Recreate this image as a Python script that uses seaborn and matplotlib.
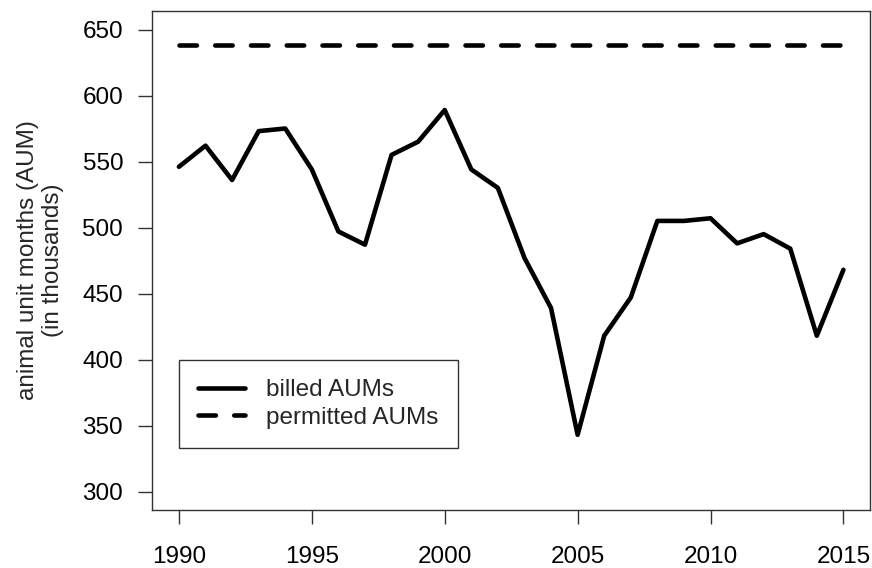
import numpy as np
import pandas as pd
import matplotlib
matplotlib.use("Agg")
import matplotlib.pyplot as plt
import seaborn as sns

years = list(range(1990, 2016))
billed = [546, 562, 536, 573, 575, 544, 497, 487, 555, 565, 589, 544, 530,
          477, 439, 343, 418, 447, 505, 505, 507, 488, 495, 484, 418, 468]
permitted = 638.5
y_ticks = [300, 350, 400, 450, 500, 550, 600, 650]
x_ticks = [1990, 1995, 2000, 2005, 2010, 2015]

df = pd.DataFrame({"year": years, "billed": billed,
                   "permitted": [permitted] * len(years)})

sns.set_style("ticks")
plt.rcParams["font.family"] = ["Liberation Sans", "DejaVu Sans"]

FS = 17.5
fig = plt.figure(figsize=(8.72, 5.68), dpi=100)
ax = fig.add_axes([0.1747, 0.1021, 0.8230, 0.8785])

sns.lineplot(data=df, x="year", y="billed", ax=ax, color="black", lw=3.3,
             label="billed AUMs", solid_capstyle="round", solid_joinstyle="round")
sns.lineplot(data=df, x="year", y="permitted", ax=ax, color="black", lw=3.3,
             label="permitted AUMs", linestyle=(0, (3.8, 4.0)),
             dash_capstyle="round")

ax.set_xlim(1989, 2016)
ax.set_ylim(286, 664)
ax.set_xticks(x_ticks)
ax.set_yticks(y_ticks)
ax.tick_params(axis="both", direction="out", length=10, width=1,
               color="#333333", labelsize=FS, labelcolor="black")
ax.tick_params(axis="y", pad=11)
ax.tick_params(axis="x", pad=16)
for sp in ax.spines.values():
    sp.set_visible(True)
    sp.set_color("#333333")
    sp.set_linewidth(1)

ax.set_xlabel("")
ax.set_ylabel("animal unit months (AUM)\n(in thousands)", fontsize=FS,
              linespacing=1.2)
ax.yaxis.set_label_coords(-0.123, 0.5)

leg = ax.legend(loc="lower left", bbox_to_anchor=(0.0368, 0.1249),
                borderaxespad=0, fontsize=FS, frameon=True, fancybox=False,
                handlelength=1.93, handletextpad=0.9, labelspacing=0.22,
                borderpad=0.78)
leg.get_frame().set_edgecolor("#333333")
leg.get_frame().set_linewidth(1)
leg.get_frame().set_alpha(1)

fig.savefig("out.png", dpi=100)
plt.close(fig)
